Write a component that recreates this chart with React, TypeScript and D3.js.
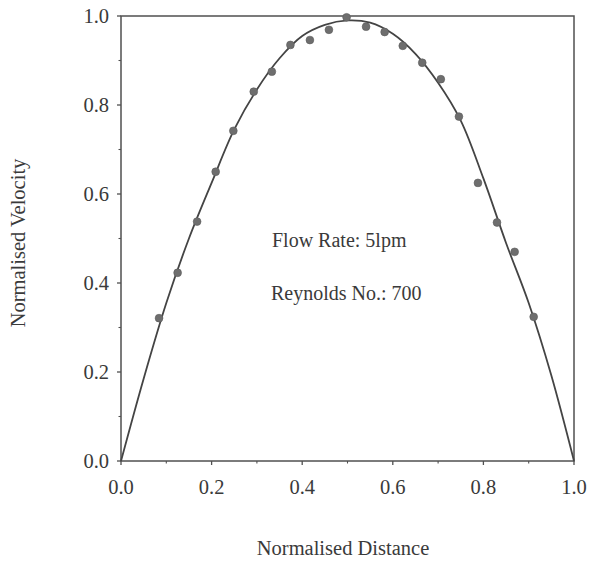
import React from "react";
import * as d3 from "d3";

const pointX = [0.084, 0.125, 0.168, 0.209, 0.248, 0.293, 0.333, 0.374, 0.417, 0.459, 0.498, 0.541, 0.582, 0.622, 0.665, 0.706, 0.746, 0.788, 0.83, 0.869, 0.911];
const pointY = [0.321, 0.423, 0.538, 0.65, 0.742, 0.83, 0.875, 0.935, 0.946, 0.969, 0.997, 0.976, 0.964, 0.933, 0.895, 0.858, 0.774, 0.625, 0.536, 0.47, 0.324];

const curveX = [0, 0.05, 0.1, 0.15, 0.2, 0.25, 0.3, 0.35, 0.4, 0.45, 0.5, 0.55, 0.6, 0.65, 0.7, 0.75, 0.8, 0.85, 0.9, 0.95, 1.0];
const curveY = [0, 0.185, 0.355, 0.5, 0.625, 0.745, 0.835, 0.905, 0.955, 0.98, 0.99, 0.985, 0.96, 0.915, 0.85, 0.765, 0.635, 0.49, 0.355, 0.192, 0];

const majorTicks = [0, 0.2, 0.4, 0.6, 0.8, 1.0];
const minorTicks = [0.1, 0.3, 0.5, 0.7, 0.9];
const tickLabels = ["0.0", "0.2", "0.4", "0.6", "0.8", "1.0"];

const annotations = ["Flow Rate: 5lpm", "Reynolds No.: 700"];
const xTitle = "Normalised Distance";
const yTitle = "Normalised Velocity";

export default function App() {
  const W = 591, H = 563;
  const left = 121, right = 574, top = 16, bottom = 461;
  const x = d3.scaleLinear().domain([0, 1]).range([left, right]);
  const y = d3.scaleLinear().domain([0, 1]).range([bottom, top]);

  const curvePts: [number, number][] = curveX.map((v, i) => [v, curveY[i]]);
  const line = d3
    .line<[number, number]>()
    .x((d) => x(d[0]))
    .y((d) => y(d[1]))
    .curve(d3.curveCatmullRom.alpha(0.5));

  const font = "'Liberation Serif', 'Times New Roman', serif";
  const axisColor = "#505050";
  const textColor = "#3a3a3a";

  return (
    <svg
      width={W}
      height={H}
      style={{ position: "absolute", left: 0, top: 0, background: "#fff" }}
      fontFamily={font}
    >
      <rect x={left} y={top} width={right - left} height={bottom - top} fill="none" stroke={axisColor} strokeWidth={1.5} />

      {majorTicks.map((t, i) => (
        <g key={"xt" + i}>
          <line x1={x(t)} x2={x(t)} y1={bottom} y2={bottom + 4} stroke={axisColor} strokeWidth={1.3} />
          <text x={x(t)} y={494} textAnchor="middle" fontSize={20.5} fill={textColor}>
            {tickLabels[i]}
          </text>
        </g>
      ))}
      {minorTicks.map((t, i) => (
        <line key={"xm" + i} x1={x(t)} x2={x(t)} y1={bottom} y2={bottom + 2.5} stroke={axisColor} strokeWidth={1.1} />
      ))}

      {majorTicks.map((t, i) => (
        <g key={"yt" + i}>
          <line x1={left - 4} x2={left} y1={y(t)} y2={y(t)} stroke={axisColor} strokeWidth={1.3} />
          <text x={109} y={y(t) + 7} textAnchor="end" fontSize={20.5} fill={textColor}>
            {tickLabels[i]}
          </text>
        </g>
      ))}
      {minorTicks.map((t, i) => (
        <line key={"ym" + i} x1={left - 2.5} x2={left} y1={y(t)} y2={y(t)} stroke={axisColor} strokeWidth={1.1} />
      ))}

      <path d={line(curvePts) || ""} fill="none" stroke="#444" strokeWidth={1.8} />

      {pointX.map((v, i) => (
        <circle key={"p" + i} cx={x(v)} cy={y(pointY[i])} r={3.9} fill="#6e6e6e" stroke="#5a5a5a" strokeWidth={0.6} />
      ))}

      <text x={272} y={247} fontSize={20} fill={textColor}>{annotations[0]}</text>
      <text x={271} y={300} fontSize={20} fill={textColor}>{annotations[1]}</text>

      <text x={343} y={555} textAnchor="middle" fontSize={20.5} fill={textColor}>{xTitle}</text>
      <text
        transform={`translate(25, 243) rotate(-90)`}
        textAnchor="middle"
        fontSize={20.5}
        fill={textColor}
      >
        {yTitle}
      </text>
    </svg>
  );
}
